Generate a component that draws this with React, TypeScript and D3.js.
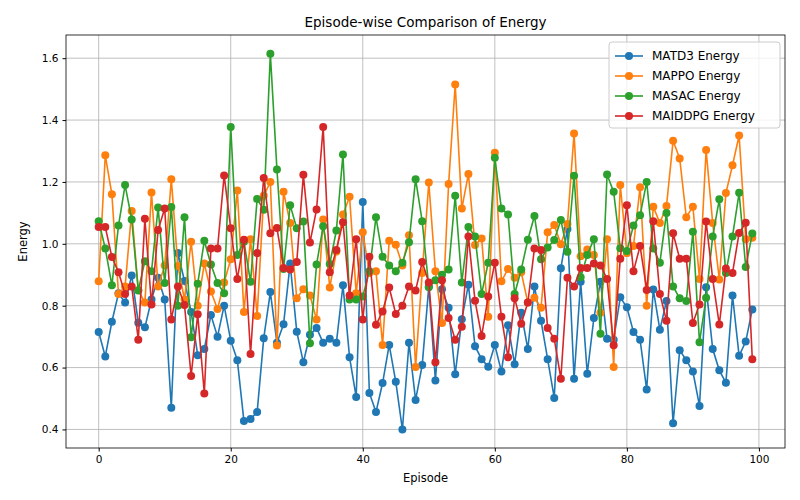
import { useEffect, useRef } from 'react';
import * as d3 from 'd3';

const seriesNames = ['MATD3 Energy', 'MAPPO Energy', 'MASAC Energy', 'MAIDDPG Energy'];
const colors = ['#1f77b4', '#ff7f0e', '#2ca02c', '#d62728'];

const matd3 = [
  0.715, 0.636, 0.748, 0.84, 0.81, 0.898, 0.745, 0.73, 0.82, 0.89, 0.82, 0.47, 0.97, 0.88, 0.78, 0.64, 0.66, 0.77, 0.70, 0.80,
  0.687, 0.624, 0.427, 0.434, 0.456, 0.695, 0.844, 0.68, 0.74, 0.936, 0.716, 0.617, 0.706, 0.728, 0.68, 0.693, 0.68, 0.866, 0.633, 0.505,
  1.135, 0.518, 0.456, 0.55, 0.673, 0.554, 0.40, 0.68, 0.495, 0.608, 0.862, 0.558, 0.853, 0.793, 0.578, 0.756, 0.868, 0.669, 0.627, 0.603,
  0.673, 0.587, 0.737, 0.611, 0.777, 0.66, 0.862, 0.751, 0.627, 0.502, 0.921, 1.048, 0.564, 0.877, 0.58, 0.76, 0.877, 0.693, 0.69, 0.827,
  0.795, 0.715, 0.69, 0.529, 0.852, 0.722, 0.815, 0.42, 0.656, 0.624, 0.587, 0.476, 0.86, 0.66, 0.591, 0.551, 0.833, 0.638, 0.684, 0.788,
];
const mappo = [
  0.879, 1.286, 1.16, 0.838, 0.862, 1.106, 0.85, 0.81, 1.166, 0.862, 0.93, 1.209, 0.928, 0.82, 1.007, 0.80, 0.936, 0.846, 0.789, 0.875,
  0.95, 1.172, 0.78, 1.015, 0.767, 1.155, 1.2, 0.671, 1.168, 1.067, 0.824, 0.853, 0.833, 0.755, 1.079, 0.859, 0.975, 1.095, 1.152, 0.84,
  1.037, 0.906, 0.911, 0.673, 1.01, 0.997, 0.93, 1.028, 0.602, 0.906, 1.198, 0.911, 0.744, 1.193, 1.515, 1.114, 1.226, 0.996, 1.017, 0.764,
  1.294, 0.879, 0.919, 0.89, 0.908, 0.81, 0.826, 0.793, 1.037, 1.061, 0.999, 1.064, 1.357, 0.96, 0.982, 0.964, 0.777, 1.015, 0.602, 1.19,
  0.97, 0.993, 1.183, 0.8, 1.12, 1.067, 1.122, 1.333, 1.276, 1.086, 1.12, 0.886, 1.303, 1.067, 0.885, 1.164, 1.254, 1.35, 1.015, 1.02,
];
const masac = [
  1.073, 0.985, 0.866, 1.059, 1.19, 1.079, 0.849, 0.944, 0.911, 1.117, 0.873, 1.119, 0.8, 1.086, 0.698, 0.871, 1.01, 0.933, 0.873, 0.84,
  1.378, 0.964, 1.007, 0.877, 1.145, 1.11, 1.614, 1.24, 0.919, 1.125, 1.05, 1.072, 0.679, 0.933, 1.057, 0.935, 1.043, 1.289, 0.82, 0.82,
  0.83, 0.911, 1.086, 0.958, 0.93, 0.911, 0.939, 1.005, 1.209, 1.073, 0.86, 0.882, 0.90, 0.917, 1.155, 0.875, 1.054, 1.024, 0.838, 0.939,
  1.278, 1.114, 1.095, 0.838, 0.917, 1.013, 1.09, 0.95, 0.988, 1.012, 1.077, 0.974, 1.22, 0.892, 0.964, 1.015, 0.709, 1.224, 1.168, 0.986,
  0.977, 1.059, 1.092, 1.2, 0.985, 0.939, 1.1, 0.862, 0.824, 0.815, 1.039, 0.682, 0.826, 1.024, 1.144, 0.906, 1.024, 1.165, 0.925, 1.033,
];
const maiddpg = [
  1.054, 1.054, 0.957, 0.908, 0.838, 0.862, 0.69, 1.081, 0.804, 1.045, 1.114, 0.755, 0.862, 0.802, 0.573, 0.772, 0.516, 0.985, 0.985, 1.221,
  1.05, 0.886, 1.013, 0.644, 0.97, 1.213, 1.034, 1.051, 0.922, 0.917, 0.941, 1.223, 1.004, 1.111, 1.378, 0.908, 0.98, 1.07, 0.833, 1.015,
  0.755, 0.958, 0.738, 0.781, 0.859, 0.773, 0.8, 0.862, 0.849, 0.941, 0.875, 0.617, 0.882, 0.76, 0.69, 0.732, 1.024, 0.816, 0.702, 0.83,
  0.939, 0.764, 0.633, 0.824, 0.742, 0.81, 0.985, 0.98, 0.728, 0.693, 0.564, 0.89, 0.862, 0.922, 0.922, 0.936, 0.93, 0.886, 0.672, 0.952,
  1.125, 0.911, 0.993, 0.851, 1.073, 0.838, 0.751, 1.034, 0.952, 0.952, 0.744, 0.804, 1.072, 0.886, 0.739, 0.92, 0.906, 1.035, 1.068, 0.627,
];
const allSeries = [matd3, mappo, masac, maiddpg];
const xTicks = [0, 20, 40, 60, 80, 100];
const yTicks = [0.4, 0.6, 0.8, 1.0, 1.2, 1.4, 1.6];

const App = () => {
  const svgRef = useRef<SVGSVGElement>(null);

  useEffect(() => {
    if (!svgRef.current) return;
    const svg = d3.select(svgRef.current);
    svg.selectAll('*').remove();

    const width = 800;
    const height = 500;
    const margin = { top: 35, right: 15, bottom: 52, left: 66 };
    const font = 'DejaVu Sans, sans-serif';

    const x = d3.scaleLinear().domain([-4.95, 103.95]).range([margin.left, width - margin.right]);
    const y = d3.scaleLinear().domain([0.34, 1.675]).range([height - margin.bottom, margin.top]);

    svg.attr('width', width).attr('height', height).style('font-family', font);
    svg.append('rect').attr('width', width).attr('height', height).attr('fill', '#fff');

    // сетка
    const grid = svg.append('g').attr('stroke', '#b0b0b0').attr('stroke-width', 0.8);
    xTicks.forEach(t => grid.append('line').attr('x1', x(t)).attr('x2', x(t)).attr('y1', y.range()[0]).attr('y2', y.range()[1]));
    yTicks.forEach(t => grid.append('line').attr('y1', y(t)).attr('y2', y(t)).attr('x1', x.range()[0]).attr('x2', x.range()[1]));

    const line = d3.line<number>().x((_, i) => x(i)).y(d => y(d));
    allSeries.forEach((data, s) => {
      const g = svg.append('g');
      g.append('path').datum(data).attr('d', line).attr('fill', 'none').attr('stroke', colors[s]).attr('stroke-width', 1.6);
      g.selectAll('circle').data(data).enter().append('circle')
        .attr('cx', (_, i) => x(i)).attr('cy', d => y(d)).attr('r', 4).attr('fill', colors[s]);
    });

    // оси
    const xAxis = svg.append('g').attr('transform', `translate(0,${height - margin.bottom})`)
      .call(d3.axisBottom(x).tickValues(xTicks).tickSize(3.5).tickPadding(4).tickFormat(d3.format('d')));
    const yAxis = svg.append('g').attr('transform', `translate(${margin.left},0)`)
      .call(d3.axisLeft(y).tickValues(yTicks).tickSize(3.5).tickPadding(4).tickFormat(d3.format('.1f')));
    [xAxis, yAxis].forEach(a => {
      a.selectAll('text').attr('font-size', 10.5).attr('font-family', font).attr('fill', '#000');
      a.select('.domain').remove();
    });
    svg.append('rect').attr('x', margin.left).attr('y', margin.top)
      .attr('width', width - margin.left - margin.right).attr('height', height - margin.top - margin.bottom)
      .attr('fill', 'none').attr('stroke', '#000').attr('stroke-width', 0.8);

    svg.append('text').attr('x', (margin.left + width - margin.right) / 2).attr('y', 27)
      .attr('text-anchor', 'middle').attr('font-size', 13.5).text('Episode-wise Comparison of Energy');
    svg.append('text').attr('x', (margin.left + width - margin.right) / 2).attr('y', 482)
      .attr('text-anchor', 'middle').attr('font-size', 11.5).text('Episode');
    svg.append('text').attr('transform', `translate(27,${(margin.top + height - margin.bottom) / 2}) rotate(-90)`)
      .attr('text-anchor', 'middle').attr('font-size', 11.5).text('Energy');

    // легенда
    const lg = svg.append('g').attr('transform', 'translate(609,42)');
    lg.append('rect').attr('width', 171).attr('height', 86).attr('rx', 3).attr('fill', 'rgba(255,255,255,0.8)').attr('stroke', '#ccc');
    seriesNames.forEach((n, i) => {
      const yy = 14 + i * 20;
      lg.append('line').attr('x1', 6).attr('x2', 34).attr('y1', yy).attr('y2', yy).attr('stroke', colors[i]).attr('stroke-width', 1.6);
      lg.append('circle').attr('cx', 20).attr('cy', yy).attr('r', 4).attr('fill', colors[i]);
      lg.append('text').attr('x', 43).attr('y', yy + 4).attr('font-size', 12).text(n);
    });
  }, []);

  return <svg ref={svgRef} style={{ display: 'block', margin: -8 }}></svg>;
};

export default App;
